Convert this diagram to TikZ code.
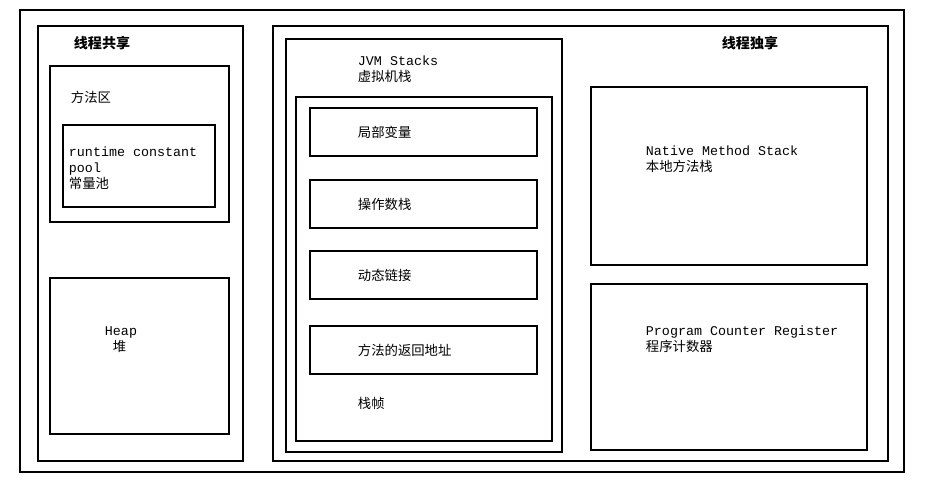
\documentclass[tikz,border=0pt]{standalone}
\usepackage{fontspec}
\setmonofont{Liberation Mono}
\newfontfamily\cjk{Noto Sans CJK SC}
\begin{document}
\begin{tikzpicture}[x=0.02cm, y=-0.02cm, line width=1.1pt,
    lbl/.style={anchor=north west, inner sep=0, align=left, font=\fontsize{7.6}{9}\selectfont\ttfamily},
    ttl/.style={inner sep=0, font=\fontsize{8}{9}\selectfont\cjk\bfseries}]
        \useasboundingbox (0,0) rectangle (938,492);
        \draw (20,10) rectangle (904,472);
        % shared part
        \draw (38,26) rectangle (243,461);
        \node[ttl] at (102,43) {线程共享};
        \draw (50,66) rectangle (229,222);
        \node[lbl] at (70,90) {\cjk 方法区};
        \draw (63,125) rectangle (215,207);
        \node[lbl] at (68,146) {runtime constant\\pool\\{\cjk 常量池}};
        \draw (50,278) rectangle (229,434);
        \node[lbl] at (104,326) {Heap\\\ {\cjk 堆}};
        % private part
        \draw (273,26) rectangle (888,461);
        \node[ttl] at (750,43) {线程独享};
        \draw (286,39) rectangle (562,452);
        \node[lbl] at (357,55) {JVM Stacks\\{\cjk 虚拟机栈}};
        \draw (296,97) rectangle (552,441);
        \foreach \y/\t in {108/局部变量, 180/操作数栈, 251/动态链接, 326/方法的返回地址}{
            \draw (310,\y) rectangle (537,\y+48);
            \node[lbl] at (357,\y+17) {\cjk \t};
        }
        \node[lbl] at (357,396) {\cjk 栈帧};
        \draw (591,87) rectangle (867,265);
        \node[lbl] at (645,145) {Native Method Stack\\{\cjk 本地方法栈}};
        \draw (591,284) rectangle (867,450);
        \node[lbl] at (645,325) {Program Counter Register\\{\cjk 程序计数器}};
    \end{tikzpicture}
\end{document}
